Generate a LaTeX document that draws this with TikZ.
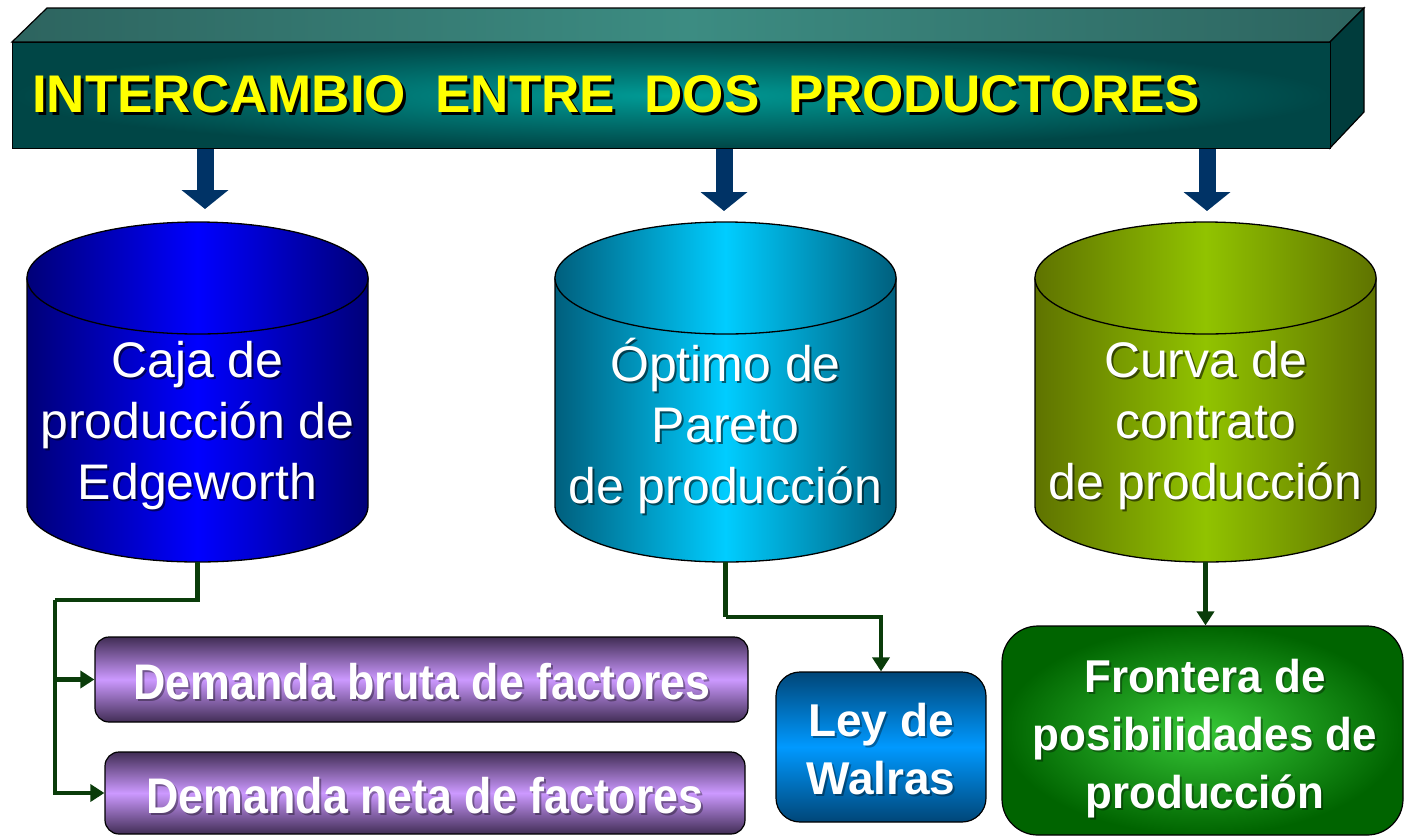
\documentclass[tikz,border=0pt]{standalone}
\usepackage{fontspec}
\setmainfont{Liberation Sans}
\usetikzlibrary{arrows.meta}
\definecolor{hdrIn}{RGB}{0,155,150}
\definecolor{hdrOut}{RGB}{0,70,70}
\definecolor{topE}{RGB}{45,100,95}
\definecolor{topM}{RGB}{60,140,130}
\definecolor{sideC}{RGB}{0,60,60}
\definecolor{titleY}{RGB}{255,255,0}
\definecolor{navy}{RGB}{0,51,102}
\definecolor{cAd}{RGB}{0,0,120}
\definecolor{cAb}{RGB}{0,0,255}
\definecolor{cBd}{RGB}{0,95,125}
\definecolor{cBb}{RGB}{0,205,255}
\definecolor{cCd}{RGB}{95,115,0}
\definecolor{cCb}{RGB}{145,195,0}
\definecolor{connC}{RGB}{10,60,10}
\definecolor{purD}{RGB}{65,45,85}
\definecolor{purL}{RGB}{204,153,255}
\definecolor{bluD}{RGB}{0,70,120}
\definecolor{bluL}{RGB}{0,153,255}
\definecolor{grnIn}{RGB}{55,200,55}
\definecolor{grnOut}{RGB}{0,100,0}
\newcommand\mycyl[4]{%
  \shadedraw[left color=#2, right color=#2, middle color=#3, draw=black, line width=1.3]
    ({#1-170.5},-278) -- ({#1-170.5},-506) arc[start angle=180,end angle=360,x radius=170.5,y radius=56] -- ({#1+170.5},-278) -- cycle;
  \shadedraw[left color=#2, right color=#2, middle color=#3, draw=black, line width=1.3]
    (#1,-278) ellipse[x radius=170.5,y radius=56];
  \coordinate (#4) at (#1,-562);
}
\newcommand\shadowed[2]{\makebox[0pt][l]{\raisebox{-3pt}{\hspace{3pt}\textcolor{#1}{#2}}}#2}
\begin{document}
\begin{tikzpicture}[x=1pt,y=1pt,
  cyltext/.style={align=center, text=white, font=\fontsize{50}{61}\selectfont, inner sep=0},
  cylshadow/.style={cyltext, text=black, opacity=0.55},
  boxtext/.style={align=center, text=white, font=\bfseries\fontsize{46}{58}\selectfont},
  boxshadow/.style={boxtext, text=black, opacity=0.35},
  barrow/.style={draw=navy, line width=17, -{Triangle[width=46pt,length=19pt]}},
  conn/.style={draw=connC, line width=4.5, -{Triangle[width=17pt,length=14pt]}},
  connl/.style={draw=connC, line width=4.5},
  purbox/.style={draw=black, line width=1.2, rounded corners=14, top color=purD, bottom color=purD, middle color=purL, inner sep=0},
]
\useasboundingbox (0,-836) rectangle (1404,0);
% header box
\shadedraw[left color=topE, right color=topE, middle color=topM, draw=black, line width=1.2]
  (12,-42) -- (47,-8) -- (1364,-8) -- (1330,-42) -- cycle;
\filldraw[fill=sideC, draw=black, line width=1.2] (1330,-42) -- (1364,-8) -- (1364,-112) -- (1330,-148) -- cycle;
\node[draw=black, line width=1.2, inner color=hdrIn, outer color=hdrOut, minimum width=1318, minimum height=106, inner sep=0, anchor=north west] (hdr) at (12,-42) {};
\node[anchor=west, text=titleY, font=\bfseries\fontsize{53}{60}\selectfont, inner sep=0] (title) at (32,-96) {\shadowed{black}{INTERCAMBIO\ \ ENTRE\ \ DOS\ \ PRODUCTORES}};
% blue arrows
\coordinate (a1s) at (205,-149); \coordinate (a1e) at (205,-209);
\coordinate (a2s) at (724,-149); \coordinate (a2e) at (724,-211);
\coordinate (a3s) at (1207,-149); \coordinate (a3e) at (1207,-211);
\draw[barrow] (a1s) -- (a1e);
\draw[barrow] (a2s) -- (a2e);
\draw[barrow] (a3s) -- (a3e);
% cylinders
\mycyl{197.5}{cAd}{cAb}{c1b}
\mycyl{725.5}{cBd}{cBb}{c2b}
\mycyl{1205.5}{cCd}{cCb}{c3b}
\node[cylshadow] (t1s) at (199.5,-428) {Caja de\\producción de\\Edgeworth};
\node[cyltext] (t1) at (197.5,-426) {Caja de\\producción de\\Edgeworth};
\node[cylshadow] (t2s) at (727.5,-428) {Óptimo de\\Pareto\\de producción};
\node[cyltext] (t2) at (725.5,-426) {Óptimo de\\Pareto\\de producción};
\node[cylshadow] (t3s) at (1207.5,-428) {Curva de\\contrato\\de producción};
\node[cyltext] (t3) at (1205.5,-426) {Curva de\\contrato\\de producción};
% lower boxes
\node[purbox, minimum width=653, minimum height=85] (b1) at (421.5,-679.5) {};
\node[purbox, minimum width=640, minimum height=82] (b2) at (425,-793) {};
\node[draw=black, line width=1.2, rounded corners=24, top color=bluD, bottom color=bluD, middle color=bluL, minimum width=210, minimum height=150, inner sep=0] (ley) at (881,-747) {};
\node[draw=black, line width=1.2, rounded corners=36, inner color=grnIn, outer color=grnOut, minimum width=401, minimum height=209, inner sep=0] (fr) at (1202.5,-730.5) {};
\node[boxshadow, font=\bfseries\fontsize{50}{58}\selectfont, xscale=0.895] (b1ts) at (424,-684) {Demanda bruta de factores};
\node[boxtext, font=\bfseries\fontsize{50}{58}\selectfont, xscale=0.895] (b1t) at (422,-682) {Demanda bruta de factores};
\node[boxshadow, font=\bfseries\fontsize{50}{58}\selectfont, xscale=0.895] (b2ts) at (427,-798) {Demanda neta de factores};
\node[boxtext, font=\bfseries\fontsize{50}{58}\selectfont, xscale=0.895] (b2t) at (425,-796) {Demanda neta de factores};
\node[boxshadow] (lts) at (883,-751) {Ley de\\Walras};
\node[boxtext] (lt) at (881,-749) {Ley de\\Walras};
\node[boxshadow, xscale=0.955] (fts) at (1207,-741) {Frontera de\\posibilidades de\\producción};
\node[boxtext, xscale=0.955] (ft) at (1205,-739) {Frontera de\\posibilidades de\\producción};
% connectors
\coordinate (j1) at (55,-600);
\draw[connl] (c1b) |- (j1);
\draw[conn] (j1) |- (b1.west);
\draw[conn] (j1) |- (b2.west);
\coordinate (j2) at (724,-617);
\draw[connl] (c2b) -- (c2b |- j2);
\draw[conn] (c2b |- j2) -| (ley.north);
\draw[conn] (c3b) -- (c3b |- fr.north);
\end{tikzpicture}
\end{document}
